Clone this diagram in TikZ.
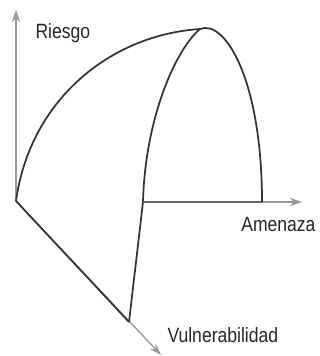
\documentclass[tikz,border=0pt]{standalone}
\usepackage{fontspec}
\setmainfont{Liberation Sans}
\usetikzlibrary{arrows.meta}

\tikzset{every picture/.style={line width=0.75pt}}
\tikzset{
  axis/.style={draw=black!40, line width=1pt, -{Stealth[length=9pt,width=6pt]}},
  edge/.style={draw=black!80, line width=1.3pt},
  lbl/.style={inner sep=0.75pt, text=black!85, font=\fontsize{15.5}{18}\selectfont\addfontfeature{FakeStretch=0.85}}
}

\begin{document}
\begin{tikzpicture}[x=0.75pt,y=0.75pt,yscale=-1,xscale=1]
        \useasboundingbox (0,0) rectangle (320,356);

        \coordinate (o) at (16,201);
        \coordinate (top) at (200,29);
        \coordinate (h) at (143,202);
        \coordinate (a) at (262,202);
        \coordinate (v) at (129,322);
        \coordinate (yend) at (16,10);
        \coordinate (xend) at (302,202);
        \coordinate (zend) at (161,355);

        \draw [axis]   (o) -- (yend) ;
        \draw [axis]   (h) -- (xend) ;
        \draw [axis]   (o) -- (zend) ;

        \draw [edge]   (o) .. controls (30,100) and (110,35) .. (top) ;
        \draw [edge]   (top) .. controls (225,19) and (262,80) .. (a) ;
        \draw [edge]   (top) .. controls (175,50) and (145,120) .. (h) -- (v) ;
        \draw [edge]   (o) -- (v) ;
        \draw [edge, draw=black!60]   (h) -- (a) ;

        \node [lbl, anchor=west] (riesgo) at (34,33) {Riesgo};
        \node [lbl, anchor=north east] (amenaza) at (317,216) {Amenaza};
        \node [lbl, anchor=west] (vuln) at (166,335) {Vulnerabilidad};
    \end{tikzpicture}
\end{document}
